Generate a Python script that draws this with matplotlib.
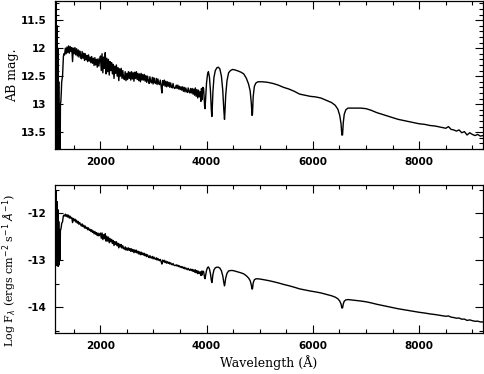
import numpy as np
import matplotlib
matplotlib.use("Agg")
import matplotlib.pyplot as plt
from matplotlib.ticker import MultipleLocator

# Lyman-alpha / geocoronal edge (wavelength in A, AB mag)
edge_wave = [1150, 1158, 1165, 1172, 1180, 1188, 1196, 1204, 1212, 1220,
             1228, 1236, 1244, 1252, 1260, 1268, 1276, 1284, 1292, 1300,
             1308, 1316]
edge_mag = [15.0, 11.3, 15.0, 11.1, 15.0, 11.6, 15.0, 12.0, 15.0, 12.6,
            14.9, 13.0, 14.6, 13.0, 12.95, 12.8, 12.6, 12.55, 12.5, 12.3,
            12.15, 12.1]

# UV part, sampled every 15 A starting at 1330 A
uv_start = 1330
uv_step = 15
uv_mag = [
    12.12, 12.00, 12.10, 11.98, 12.08, 11.96, 12.09, 11.97, 12.06, 11.99, 12.24, 12.00,
    12.10, 11.99, 12.12, 12.01, 12.14, 12.03, 12.16, 12.05, 12.13, 12.19, 12.06, 12.18, 12.09,
    12.22, 12.10, 12.21, 12.13, 12.24, 12.12, 12.23, 12.16, 12.26, 12.15,
    12.27, 12.18, 12.31, 12.17, 12.30, 12.20, 12.34, 12.19, 12.32, 12.21,
    12.14, 12.40, 12.10, 12.44, 12.16, 12.36, 12.08, 12.46, 12.18, 12.42, 12.20, 12.48, 12.24, 12.40,
    12.26, 12.46, 12.29, 12.54, 12.32, 12.45, 12.30, 12.50, 12.35, 12.58,
    12.37, 12.50, 12.36, 12.54, 12.40, 12.53, 12.56, 12.42, 12.58, 12.45,
    12.56, 12.42, 12.54, 12.43, 12.57, 12.42, 12.55, 12.44, 12.59, 12.43,
    12.54, 12.42, 12.56, 12.45, 12.58, 12.46, 12.60, 12.45, 12.57, 12.47,
    12.57, 12.47, 12.59, 12.49, 12.61, 12.50, 12.58, 12.63, 12.51, 12.60,
    12.62, 12.52, 12.64, 12.53, 12.61, 12.63, 12.54, 12.65, 12.55, 12.63,
    12.65, 12.57, 12.67, 12.80, 12.58, 12.66, 12.57, 12.68, 12.59, 12.69,
    12.60, 12.68, 12.61, 12.70, 12.62, 12.69, 12.71, 12.63, 12.70, 12.72,
    12.71, 12.66, 12.72, 12.66, 12.73, 12.68, 12.74, 12.69, 12.75, 12.69,
    12.77, 12.70, 12.78, 12.71, 12.77, 12.79, 12.71, 12.78, 12.80, 12.72,
    12.80, 12.72, 12.82, 12.73, 12.84, 12.71, 12.86, 12.74, 12.89, 12.75, 12.87, 12.78,
]

# optical part with the Balmer lines
opt_wave = [3895, 3905, 3915, 3930, 3945, 3955, 3965, 3972, 3985, 4000,
            4020, 4035, 4055, 4075, 4090, 4100, 4108, 4120, 4140, 4165,
            4195, 4222, 4250, 4280, 4305, 4325, 4338, 4346, 4360, 4385,
            4415, 4450, 4490, 4540, 4600, 4650, 4700, 4750, 4790, 4820,
            4842, 4856, 4864, 4878, 4900, 4930, 4970, 5050, 5150, 5250,
            5350, 5450, 5550, 5650, 5750, 5850, 5950, 6050, 6150, 6250,
            6350, 6420, 6470, 6505, 6530, 6545, 6558, 6572, 6590, 6620,
            6660, 6700, 6800, 6900, 7000, 7100, 7200, 7300, 7400, 7500,
            7600, 7700, 7800, 7900, 8000, 8100, 8200, 8300, 8400, 8500,
            8550, 8600, 8650, 8700, 8750, 8800, 8850, 8900, 8950, 9000,
            9050, 9100, 9150, 9200]
opt_mag = [12.95, 12.72, 12.92, 12.70, 12.72, 12.88, 13.05, 13.08, 12.88, 12.62,
           12.46, 12.42, 12.52, 12.78, 13.10, 13.22, 13.08, 12.78, 12.52, 12.40,
           12.35, 12.34, 12.37, 12.50, 12.75, 13.10, 13.27, 13.15, 12.85, 12.58,
           12.44, 12.40, 12.38, 12.39, 12.41, 12.43, 12.46, 12.54, 12.64, 12.76,
           12.98, 13.20, 13.18, 12.86, 12.68, 12.62, 12.60, 12.60, 12.61, 12.63,
           12.66, 12.70, 12.73, 12.77, 12.82, 12.84, 12.86, 12.87, 12.89, 12.93,
           12.97, 13.02, 13.09, 13.20, 13.35, 13.55, 13.55, 13.33, 13.18, 13.10,
           13.07, 13.07, 13.07, 13.07, 13.08, 13.11, 13.15, 13.18, 13.21, 13.24,
           13.27, 13.29, 13.31, 13.33, 13.35, 13.36, 13.38, 13.39, 13.41, 13.43,
           13.40, 13.45, 13.46, 13.48, 13.46, 13.51, 13.49, 13.55, 13.51, 13.54,
           13.56, 13.54, 13.57, 13.56]

uv_wave = uv_start + uv_step * np.arange(len(uv_mag))
wave = np.concatenate([edge_wave, uv_wave, opt_wave]).astype(float)
abmag = np.concatenate([edge_mag, uv_mag, opt_mag])

# AB mag -> log F_lambda (erg cm^-2 s^-1 A^-1)
c_ang = 2.998e18
logflam = -(abmag + 48.6) / 2.5 + np.log10(c_ang) - 2 * np.log10(wave)

fig = plt.figure(figsize=(4.85, 3.74), dpi=100)
ax1 = fig.add_axes([0.1134, 0.6016, 0.8825, 0.397])
ax2 = fig.add_axes([0.1134, 0.1096, 0.8825, 0.3957])

tickfont = {"family": "DejaVu Sans", "size": 7.5, "weight": "bold"}
labfont = {"family": "DejaVu Serif", "size": 9}

for ax in (ax1, ax2):
    ax.set_xlim(1150, 9200)
    ax.xaxis.set_minor_locator(MultipleLocator(500))
    ax.tick_params(which="both", direction="in", top=True, right=True, width=0.8)
    ax.tick_params(which="major", length=6, pad=6)
    ax.tick_params(which="minor", length=3)
    for sp in ax.spines.values():
        sp.set_linewidth(0.9)

ax1.plot(wave, abmag, color="black", lw=1.0)
ax1.set_ylim(13.8, 11.15)
ax1.yaxis.set_minor_locator(MultipleLocator(0.1))
ax1.set_yticks([11.5, 12, 12.5, 13, 13.5])
ax1.set_yticklabels(["11.5", "12", "12.5", "13", "13.5"], fontdict=tickfont)
ax1.set_ylabel("AB mag.", fontdict=labfont)
ax1.yaxis.set_label_coords(-0.085, 0.5)

ax2.plot(wave, logflam, color="black", lw=1.0)
ax2.set_ylim(-14.55, -11.4)
ax2.set_yticks([-12, -13, -14])
ax2.set_yticklabels(["-12", "-13", "-14"], fontdict=tickfont)
ax2.yaxis.set_minor_locator(MultipleLocator(0.5))
ax2.set_ylabel(r"Log F$_\lambda$ (ergs cm$^{-2}$ s$^{-1}$ $\AA^{-1}$)",
               fontdict={"family": "DejaVu Serif", "size": 8})
ax2.yaxis.set_label_coords(-0.085, 0.42)
ax2.set_xlabel("Wavelength (Å)", fontdict=labfont, labelpad=3)

for ax in (ax1, ax2):
    ax.set_xticks([2000, 4000, 6000, 8000])
    ax.set_xticklabels(["2000", "4000", "6000", "8000"], fontdict=tickfont)

fig.savefig("out.png", dpi=100)
